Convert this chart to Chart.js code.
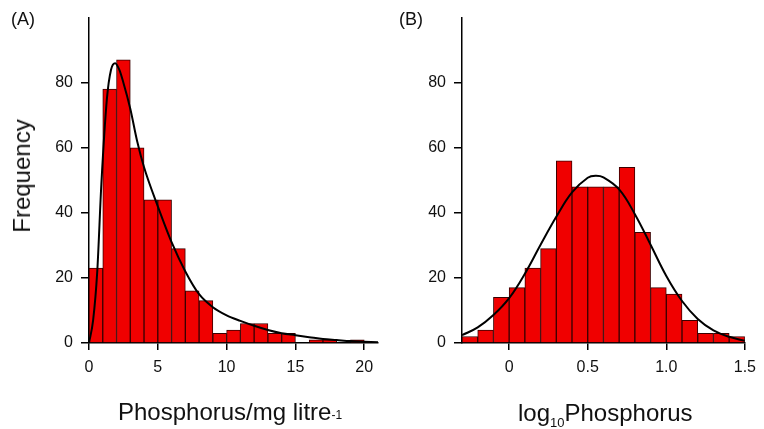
<!DOCTYPE html>
<html lang="en">
<head>
    <meta charset="UTF-8">
    <title>Phosphorus histograms</title>
    <script src="https://cdn.jsdelivr.net/npm/chart.js"></script>
    <style>
        body {
            margin: 0;
            background: #ffffff;
            overflow: hidden;
            font-family: 'Liberation Sans', Arial, sans-serif;
        }
        #wrap {
            position: relative;
            width: 764px;
            height: 429px;
        }
        .panel {
            position: absolute;
            top: 0;
            height: 429px;
        }
        .txt {
            position: absolute;
            color: #111;
            white-space: nowrap;
            line-height: 24px;
        }
        .tag { font-size: 18px; }
        .title { font-size: 24px; }
        .sup { font-size: 12px; vertical-align: 1px; }
        .sub { font-size: 13px; vertical-align: -6px; }
    </style>
</head>
<body>
<div id="wrap">
    <div class="panel" style="left:0;width:390px;"><canvas id="chartA"></canvas></div>
    <div class="panel" style="left:390px;width:374px;"><canvas id="chartB"></canvas></div>

    <div class="txt tag" style="left:11px;top:7px;">(A)</div>
    <div class="txt tag" style="left:399px;top:7px;">(B)</div>
    <div class="txt title" style="left:22px;top:176px;transform:translate(-50%,-50%) rotate(-90deg);">Frequency</div>
    <div class="txt title" style="left:118px;top:400px;">Phosphorus/mg litre<span class="sup">-1</span></div>
    <div class="txt title" style="left:518px;top:401px;">log<span class="sub">10</span>Phosphorus</div>
</div>

<script>
    // panel A: raw phosphorus, bins of width 1
    const binStartA = [0, 1, 2, 3, 4, 5, 6, 7, 8, 9, 10, 11, 12, 13, 14, 15, 16, 17, 18, 19, 20];
    const countsA   = [23, 78, 87, 60, 44, 44, 29, 16, 13, 3, 4, 6, 6, 3, 3, 0, 1, 1, 0, 1, 0];
    const binWidthA = 1;
    const curveAx = [0, 0.3, 0.6, 0.9, 1.3, 1.6, 1.9, 2.2, 2.5, 3, 3.5, 4, 5, 6, 7, 8, 9, 10, 11, 12, 13, 14, 15, 16, 17, 18, 19, 20, 21];
    const curveAy = [0, 7, 22, 49, 75, 84, 86, 84, 80, 72, 62, 54, 42, 31, 22, 15, 11, 8.5, 6.8, 5.3, 4, 3, 2.4, 1.8, 1.2, 0.9, 0.6, 0.4, 0.2];
    const xTicksA = [0, 5, 10, 15, 20];
    const xLabelsA = ['0', '5', '10', '15', '20'];

    // panel B: log10 phosphorus, bins of width 0.1
    const binStartB = [-0.3, -0.2, -0.1, 0, 0.1, 0.2, 0.3, 0.4, 0.5, 0.6, 0.7, 0.8, 0.9, 1.0, 1.1, 1.2, 1.3, 1.4];
    const countsB   = [2, 4, 14, 17, 23, 29, 56, 48, 48, 48, 54, 34, 17, 15, 7, 3, 3, 2];
    const binWidthB = 0.1;
    const curveBx = [-0.3, -0.2, -0.1, 0, 0.1, 0.2, 0.3, 0.4, 0.5, 0.55, 0.6, 0.7, 0.8, 0.9, 1.0, 1.1, 1.2, 1.3, 1.4, 1.5];
    const curveBy = [2.4, 4.8, 8.6, 13.8, 21.3, 30.2, 38.8, 46.3, 50.8, 51.4, 50.9, 47.2, 39.6, 30.2, 20.6, 12.9, 7.4, 3.9, 1.9, 0.7];
    const xTicksB = [0, 0.5, 1.0, 1.5];
    const xLabelsB = ['0', '0.5', '1.0', '1.5'];

    const yTicks = [0, 20, 40, 60, 80];

    const barRed = '#f00000';

    function histChart(id, starts, counts, width, cx, cy, xmin, xmax, xticks, xlabels, yAxisWidth, padRight, smooth) {
        const bars = starts.map((s, i) => ({ x: s + width / 2, y: counts[i] }));
        const curve = cx.map((x, i) => ({ x: x, y: cy[i] }));
        return new Chart(document.getElementById(id), {
            type: 'bar',
            data: {
                datasets: [
                    {
                        type: 'line',
                        data: curve,
                        borderColor: '#000',
                        borderWidth: 2,
                        pointRadius: 0,
                        cubicInterpolationMode: smooth,
                        tension: 0.4,
                        fill: false,
                        order: 0
                    },
                    {
                        type: 'bar',
                        data: bars,
                        backgroundColor: barRed,
                        borderColor: '#3a0000',
                        borderWidth: 1,
                        barPercentage: 1,
                        categoryPercentage: 1,
                        order: 1
                    }
                ]
            },
            options: {
                responsive: true,
                maintainAspectRatio: false,
                animation: false,
                layout: { padding: { top: 8, right: padRight, left: 0, bottom: 0 } },
                plugins: {
                    legend: { display: false },
                    tooltip: { enabled: false }
                },
                scales: {
                    x: {
                        type: 'linear',
                        min: xmin,
                        max: xmax,
                        offset: false,
                        afterBuildTicks: s => { s.ticks = xticks.map(v => ({ value: v })); },
                        afterFit: s => { s.height = 86; },
                        ticks: {
                            color: '#111',
                            font: { family: 'Liberation Sans', size: 16 },
                            padding: 8,
                            maxRotation: 0,
                            callback: (v, i) => xlabels[i]
                        },
                        grid: {
                            display: true,
                            offset: false,
                            drawOnChartArea: false,
                            drawTicks: true,
                            tickLength: 7,
                            color: '#000',
                            lineWidth: 1.5
                        },
                        border: { display: true, color: '#000', width: 1.5 }
                    },
                    y: {
                        min: 0,
                        max: 100,
                        afterBuildTicks: s => { s.ticks = yTicks.map(v => ({ value: v })); },
                        afterFit: s => { s.width = yAxisWidth; },
                        ticks: {
                            color: '#111',
                            font: { family: 'Liberation Sans', size: 16 },
                            padding: 8
                        },
                        grid: {
                            display: true,
                            drawOnChartArea: false,
                            drawTicks: true,
                            tickLength: 8,
                            color: '#000',
                            lineWidth: 1.5
                        },
                        border: { display: true, color: '#000', width: 1.5 }
                    }
                }
            }
        });
    }

    histChart('chartA', binStartA, countsA, binWidthA, curveAx, curveAy, 0, 21, xTicksA, xLabelsA, 89, 12, 'monotone');
    histChart('chartB', binStartB, countsB, binWidthB, curveBx, curveBy, -0.3, 1.5, xTicksB, xLabelsB, 72, 11, 'default');
</script>
</body>
</html>
